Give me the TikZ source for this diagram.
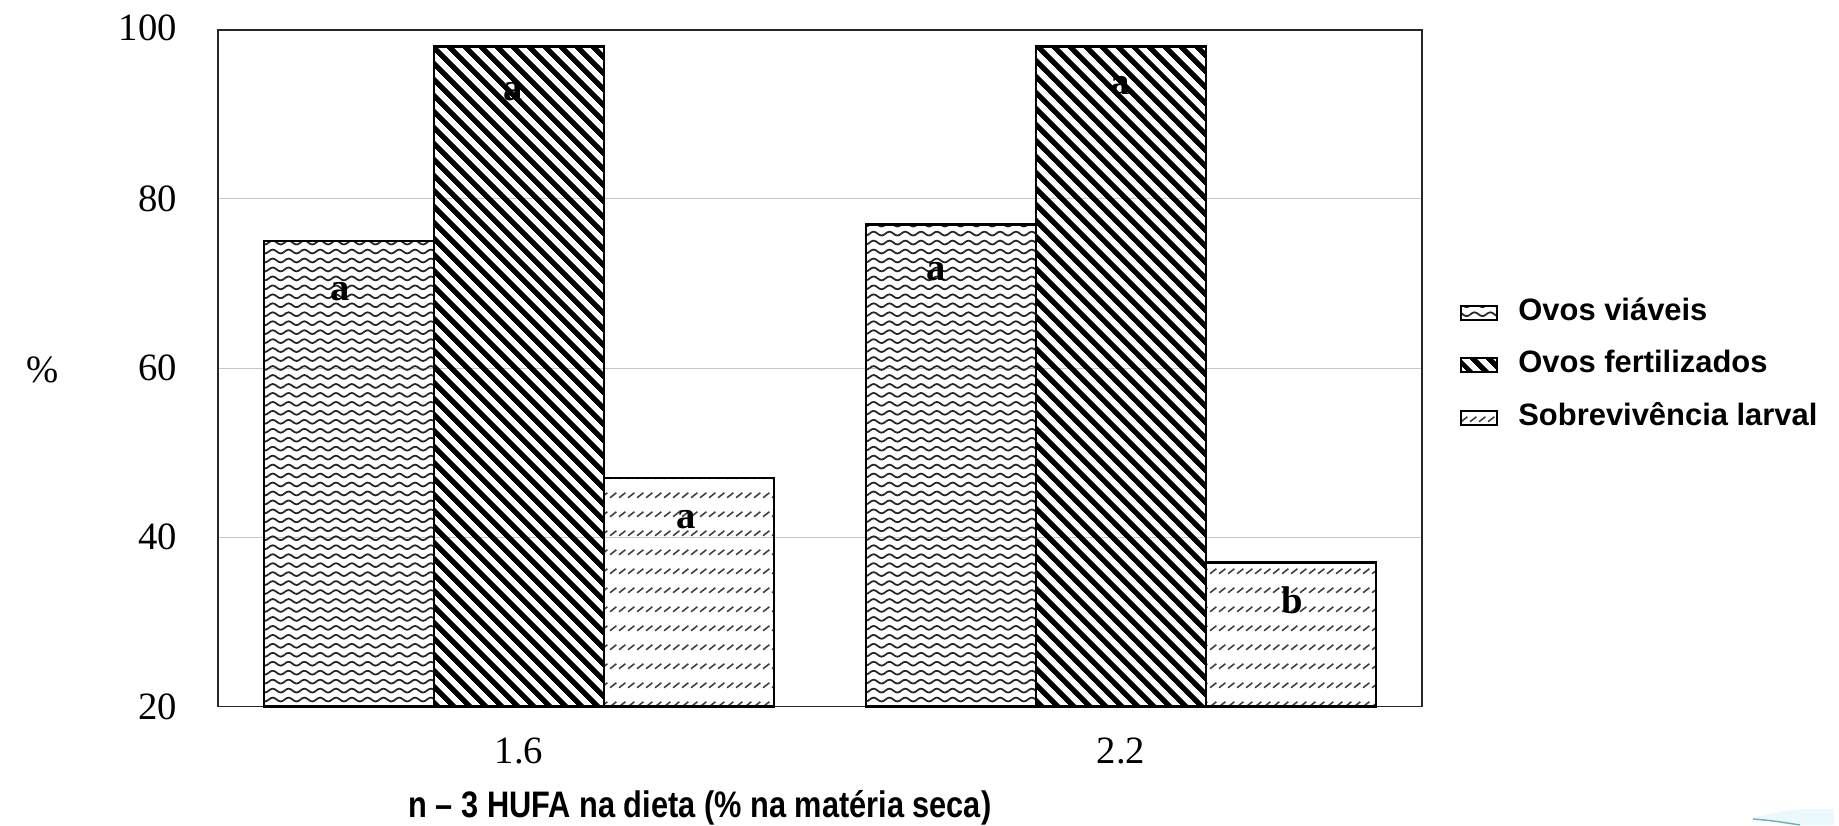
\documentclass[tikz,border=0pt]{standalone}
\usepackage{fontspec}
\setmainfont{Liberation Serif}
\setsansfont{Liberation Sans}
\usetikzlibrary{patterns.meta}

\tikzdeclarepattern{
  name=waves,
  type=uncolored,
  bounding box={(-0.5pt,-1.5pt) and (9.5pt,1.5pt)},
  tile size={(9pt,5.1pt)},
  code={\draw[line width=1pt] (0,0) sin (2.25pt,1.1pt) cos (4.5pt,0) sin (6.75pt,-1.1pt) cos (9pt,0);}
}
\tikzdeclarepattern{
  name=larvaldash,
  type=uncolored,
  bounding box={(0,0) and (5.1pt,10.8pt)},
  tile size={(5.1pt,10.8pt)},
  code={\draw[line width=0.9pt] (0.6pt,3pt) -- (4.2pt,5.8pt);}
}

\tikzset{
  bar/.style={draw=black, line width=1.4pt},
  grid line/.style={gray!45, line width=0.6pt},
  axisframe/.style={black!85, line width=1.1pt},
  tick label/.style={font=\fontsize{22}{26}\selectfont},
  letter/.style={font=\fontsize{22}{26}\selectfont\bfseries},
  legend label/.style={font=\fontsize{17.6}{20}\selectfont\sffamily\bfseries,
    anchor=base west, inner sep=0pt},
  viable/.style={pattern=waves, pattern color=black!85},
  fertil/.style={pattern={Lines[angle=-45,distance=6.4pt,line width=3pt]},
    pattern color=black},
  larval/.style={pattern=larvaldash, pattern color=black!75},
}

\begin{document}
\begin{tikzpicture}[x=0.02cm, y=-0.02cm]
  \useasboundingbox (0,0) rectangle (1839,825);

  % grid and frame
  \foreach \yy in {537.3,368.1,198.9}
    \draw[grid line] (218,\yy) -- (1422,\yy);
  \draw[axisframe] (218,29.7) rectangle (1422,706.5);

  % bars
  \foreach \xl/\ytop/\sty in {264/241.2/viable, 434/46.6/fertil, 604/478.1/larval,
                              866/224.3/viable, 1036/46.6/fertil, 1206/562.7/larval}
    \draw[bar, \sty] (\xl,706.5) rectangle (\xl+170,\ytop);

  % letters on bars
  \node[letter] (la1) at (340,292) {a};
  \node[letter] (lb1) at (513,92) {a};
  \node[letter] (lc1) at (686,520) {a};
  \node[letter] (la2) at (936,272) {a};
  \node[letter] (lb2) at (1120,86) {a};
  \node[letter] (lc2) at (1292,600) {b};

  % axes labels
  \foreach \v/\yy in {100/28, 80/198.9, 60/368.1, 40/537.3, 20/706.5}
    \node[tick label, anchor=east] (y\v) at (183,\yy) {\v};
  \node[tick label] (ylab) at (43,370) {\%};
  \node[tick label] (x16) at (519,751) {1.6};
  \node[tick label] (x22) at (1121,751) {2.2};
  \node[font=\fontsize{17.5}{20}\selectfont\sffamily\bfseries] (xlab) at (700,808)
    {\scalebox{1}[1.2]{n – 3 HUFA na dieta (\% na matéria seca)}};

  % legend
  \foreach \i/\sty/\txt/\yb in {1/viable/Ovos viáveis/320,
                                2/fertil/Ovos fertilizados/372,
                                3/larval/Sobrevivência larval/425} {
    \draw[line width=0.8pt, \sty] (1461,\yb) rectangle (1497,\yb-14);
    \node[legend label] (leg\i) at (1518,\yb) {\txt};
  }

  % corner swoosh
  \fill[cyan!8] (1753,818) .. controls (1790,809) .. (1834,809) -- (1834,825) -- (1790,825) -- cycle;
  \draw[teal!60, line width=0.8pt] (1753,819) .. controls (1775,821) .. (1800,825);
\end{tikzpicture}
\end{document}
